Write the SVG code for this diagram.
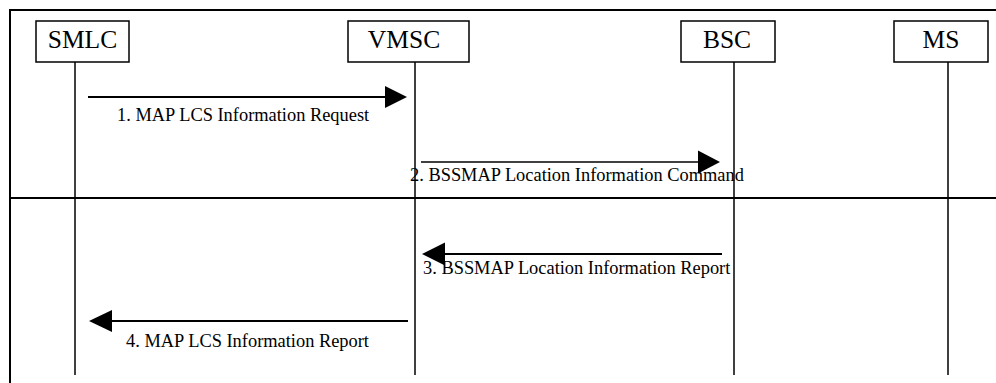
<svg xmlns="http://www.w3.org/2000/svg" width="996" height="383" viewBox="0 0 996 383">
<style>
.frame{stroke:#000;stroke-width:2;fill:none}
.box{fill:#fff;stroke:#000;stroke-width:1.5}
.life{stroke:#000;stroke-width:1.5}
.msg{stroke:#000;stroke-width:2}
.head{fill:#000}
.bt{font-family:"Liberation Serif","Times New Roman",serif;font-size:25.5px;fill:#000;text-anchor:middle}
.lt{font-family:"Liberation Serif","Times New Roman",serif;font-size:18.4px;fill:#000}
</style>
<rect width="996" height="383" fill="#fff"/>
<g id="frame">
<line class="frame" x1="10" y1="10" x2="996" y2="10"/>
<line class="frame" x1="10" y1="9" x2="10" y2="383"/>
<line class="frame" x1="10" y1="198" x2="996" y2="198"/>
</g>
<g id="lifelines">
<line class="life" x1="75" y1="62" x2="75" y2="375"/>
<line class="life" x1="415" y1="62" x2="415" y2="375"/>
<line class="life" x1="734" y1="62" x2="734" y2="375"/>
<line class="life" x1="948" y1="62" x2="948" y2="375"/>
</g>
<g id="node-smlc"><rect class="box" x="36" y="21" width="93" height="41"/><text class="bt" x="82.5" y="48">SMLC</text></g>
<g id="node-vmsc"><rect class="box" x="348" y="21" width="121" height="41"/><text class="bt" x="404" y="48">VMSC</text></g>
<g id="node-bsc"><rect class="box" x="681" y="21" width="94" height="41"/><text class="bt" x="727" y="48">BSC</text></g>
<g id="node-ms"><rect class="box" x="894" y="21" width="94" height="41"/><text class="bt" x="941" y="48">MS</text></g>
<g id="connectors">
<line class="msg" x1="88" y1="97" x2="386" y2="97"/>
<polygon class="head" points="385,86 407,97 385,108"/>
<text class="lt" x="117" y="121">1. MAP LCS Information Request</text>
<line class="msg" x1="421" y1="162" x2="699" y2="162" style="stroke-width:1.5"/>
<polygon class="head" points="698,150.5 720,162 698,173.5"/>
<text class="lt" x="410" y="181">2. BSSMAP Location Information Command</text>
<line class="msg" x1="722" y1="254" x2="444" y2="254"/>
<polygon class="head" points="445,242.5 422,254 445,265.5"/>
<text class="lt" x="423" y="274">3. BSSMAP Location Information Report</text>
<line class="msg" x1="408" y1="321" x2="111" y2="321"/>
<polygon class="head" points="112,310 89,321 112,332"/>
<text class="lt" x="126" y="347">4. MAP LCS Information Report</text>
</g>
</svg>
